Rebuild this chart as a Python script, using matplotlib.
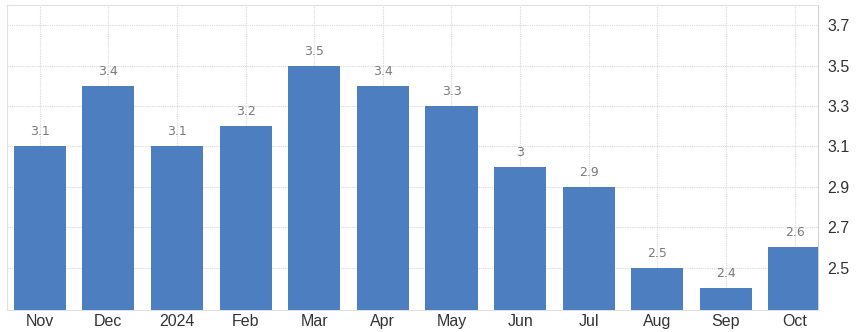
import matplotlib
matplotlib.use("Agg")
import matplotlib.pyplot as plt

categories = ["Nov", "Dec", "2024", "Feb", "Mar", "Apr", "May", "Jun", "Jul", "Aug", "Sep", "Oct"]
values = [3.1, 3.4, 3.1, 3.2, 3.5, 3.4, 3.3, 3.0, 2.9, 2.5, 2.4, 2.6]
value_labels = ["3.1", "3.4", "3.1", "3.2", "3.5", "3.4", "3.3", "3", "2.9", "2.5", "2.4", "2.6"]
yticks = [2.5, 2.7, 2.9, 3.1, 3.3, 3.5, 3.7]

fig = plt.figure(figsize=(8.6, 3.32), dpi=100)
ax = fig.add_axes([0.008, 0.066, 0.943, 0.919])

x = list(range(len(categories)))
ybase = 2.29
ax.bar(x, [v - ybase for v in values], bottom=ybase, width=0.76,
       color="#4d7ebf", zorder=3)
for xi, v, lab in zip(x, values, value_labels):
    ax.text(xi, v + 0.04, lab, ha="center", va="bottom", fontsize=9,
            color="#7a7a7a", zorder=4)

ax.set_ylim(ybase, 3.80)
ax.set_xlim(-0.48, 11.34)
ax.set_xticks(x)
ax.set_xticklabels(categories, fontsize=11.5, color="#333333", family="Liberation Sans")
ax.set_yticks(yticks)
ax.set_yticklabels([f"{t:.1f}" for t in yticks], fontsize=11.5, color="#333333",
                   family="Liberation Sans")
ax.yaxis.tick_right()
ax.tick_params(axis="both", length=0)
ax.tick_params(axis="y", pad=7)
ax.tick_params(axis="x", pad=3)

ax.grid(True, color="#d8d8d8", linestyle=(0, (1, 1)), linewidth=0.8, zorder=0)
for side in ["top", "left", "bottom", "right"]:
    ax.spines[side].set_color("#e0e0e0")
    ax.spines[side].set_linewidth(0.8)
ax.spines["right"].set_color("#d0d0d0")

fig.savefig("out.png", dpi=100)
